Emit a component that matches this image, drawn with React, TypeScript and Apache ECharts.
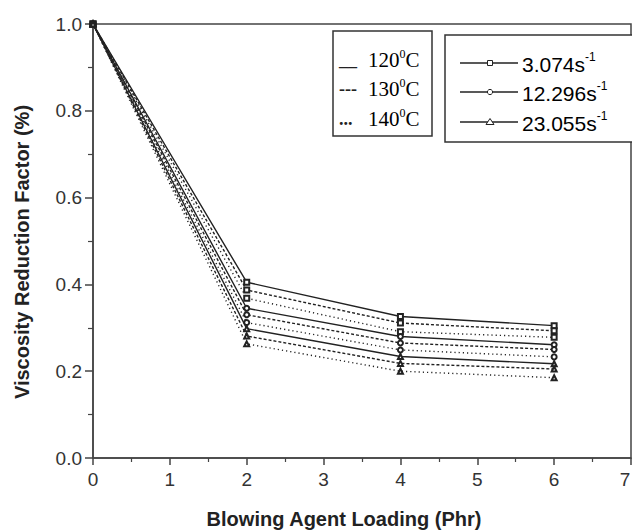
import React, { useEffect, useRef } from "react";
import * as echarts from "echarts";

// Blowing agent loading (Phr)
const loadings = [0, 2, 4, 6];
// Viscosity reduction factor, one array per shear rate / temperature
const vrf_3074_120 = [1.0, 0.405, 0.326, 0.305];
const vrf_3074_130 = [1.0, 0.387, 0.311, 0.293];
const vrf_3074_140 = [1.0, 0.368, 0.291, 0.278];
const vrf_12296_120 = [1.0, 0.345, 0.28, 0.261];
const vrf_12296_130 = [1.0, 0.33, 0.265, 0.25];
const vrf_12296_140 = [1.0, 0.312, 0.249, 0.233];
const vrf_23055_120 = [1.0, 0.298, 0.234, 0.217];
const vrf_23055_130 = [1.0, 0.281, 0.218, 0.205];
const vrf_23055_140 = [1.0, 0.263, 0.2, 0.185];

const temperatures = ["120", "130", "140"];
const shearRates = ["3.074", "12.296", "23.055"];
const tempSymbols = ["__", "---", "..."];
const xTitle = "Blowing Agent Loading (Phr)";
const yTitle = "Viscosity Reduction Factor (%)";

const seriesTable = [
  { rate: 0, temp: 0, values: vrf_3074_120 },
  { rate: 0, temp: 1, values: vrf_3074_130 },
  { rate: 0, temp: 2, values: vrf_3074_140 },
  { rate: 1, temp: 0, values: vrf_12296_120 },
  { rate: 1, temp: 1, values: vrf_12296_130 },
  { rate: 1, temp: 2, values: vrf_12296_140 },
  { rate: 2, temp: 0, values: vrf_23055_120 },
  { rate: 2, temp: 1, values: vrf_23055_130 },
  { rate: 2, temp: 2, values: vrf_23055_140 },
];

const markerSymbols = ["emptyRect", "emptyCircle", "emptyTriangle"];
const lineTypes: any[] = ["solid", [3, 2], [1.2, 3]];

export default function App() {
  const ref = useRef<HTMLDivElement>(null);
  useEffect(() => {
    if (!ref.current) return;
    const chart = echarts.init(ref.current, null, { renderer: "svg" });
    const axisColor = "#444";
    const labelColor = "#333";
    const series = seriesTable.map((s) => ({
      type: "line",
      name: `${shearRates[s.rate]} s-1 ${temperatures[s.temp]} C`,
      data: loadings.map((x, i) => [x, s.values[i]]),
      symbol: markerSymbols[s.rate],
      symbolSize: 5,
      showSymbol: true,
      lineStyle: { color: "#222", width: 1.4, type: lineTypes[s.temp] },
      itemStyle: { color: "#222", borderWidth: 1 },
      z: 3,
    }));

    const legendTemp: any[] = [
      {
        type: "rect",
        shape: { x: 333, y: 31, width: 99, height: 105 },
        style: { fill: "#fff", stroke: "#333", lineWidth: 1.5 },
      },
    ];
    const tempRowsY = [60, 89, 119];
    temperatures.forEach((t, i) => {
      legendTemp.push({
        type: "text",
        x: 339,
        y: tempRowsY[i],
        style: {
          text: tempSymbols[i],
          font: "bold 18px 'Liberation Serif'",
          fill: "#222",
          verticalAlign: "middle",
          align: "left",
        },
      });
      legendTemp.push({
        type: "text",
        x: 368,
        y: tempRowsY[i],
        style: {
          text: `{m|${t}}{s|0}{m|C}`,
          verticalAlign: "middle",
          align: "left",
          rich: {
            m: { fontFamily: "Liberation Serif", fontSize: 21, lineHeight: 24, color: "#222" },
            s: { fontFamily: "Liberation Serif", fontSize: 12, lineHeight: 12, verticalAlign: "top", color: "#222" },
          },
        },
      });
    });

    const legendRate: any[] = [
      {
        type: "rect",
        shape: { x: 445, y: 35, width: 220, height: 107 },
        style: { fill: "#fff", stroke: "#333", lineWidth: 1.5 },
      },
    ];
    const rateRowsY = [63, 92, 122];
    shearRates.forEach((r, i) => {
      const y = rateRowsY[i];
      legendRate.push({
        type: "line",
        shape: { x1: 460, y1: y, x2: 518, y2: y },
        style: { stroke: "#222", lineWidth: 1.4 },
      });
      if (i === 0) {
        legendRate.push({
          type: "rect",
          shape: { x: 487.5, y: y - 2.5, width: 5, height: 5 },
          style: { fill: "#fff", stroke: "#222", lineWidth: 1 },
        });
      } else if (i === 1) {
        legendRate.push({
          type: "circle",
          shape: { cx: 490, cy: y, r: 2.6 },
          style: { fill: "#fff", stroke: "#222", lineWidth: 1 },
        });
      } else {
        legendRate.push({
          type: "polygon",
          shape: { points: [[490, y - 3.5], [494, y + 2.5], [486, y + 2.5]] },
          style: { fill: "#fff", stroke: "#222", lineWidth: 1 },
        });
      }
      legendRate.push({
        type: "text",
        x: 522,
        y: y + 1,
        style: {
          text: `{m|${r}s}{s|-1}`,
          verticalAlign: "middle",
          align: "left",
          rich: {
            m: { fontFamily: "Liberation Sans", fontSize: 21, lineHeight: 26, color: "#222" },
            s: { fontFamily: "Liberation Sans", fontSize: 12, lineHeight: 14, verticalAlign: "top", color: "#222" },
          },
        },
      });
    });

    const titles: any[] = [
      {
        type: "text",
        x: 344,
        y: 519,
        style: {
          text: xTitle,
          font: "bold 20px 'Liberation Sans'",
          fill: "#222",
          align: "center",
          verticalAlign: "middle",
        },
      },
      {
        type: "text",
        x: 22,
        y: 252,
        rotation: Math.PI / 2,
        style: {
          text: yTitle,
          font: "bold 20px 'Liberation Sans'",
          fill: "#222",
          align: "center",
          verticalAlign: "middle",
        },
      },
    ];

    chart.setOption({
      animation: false,
      grid: {
        left: 93,
        top: 24,
        right: 1,
        bottom: 72,
        containLabel: false,
        outerBoundsMode: "none",
        show: true,
        borderColor: axisColor,
        borderWidth: 1.5,
        backgroundColor: "transparent",
      },
      xAxis: {
        type: "value",
        min: 0,
        max: 7,
        interval: 1,
        axisLine: { lineStyle: { color: axisColor, width: 1.5 } },
        axisTick: { inside: false, length: 7, lineStyle: { color: axisColor, width: 1.5 } },
        minorTick: { show: true, splitNumber: 2, length: 4, lineStyle: { color: axisColor, width: 1.2 } },
        axisLabel: {
          fontFamily: "Liberation Sans",
          fontSize: 19,
          color: labelColor,
          margin: 12,
          hideOverlap: false,
          showMinLabel: true,
          showMaxLabel: true,
          formatter: (v: number) => (v === 7 ? `{r|${v}}` : `${v}`),
          rich: {
            r: {
              fontFamily: "Liberation Sans",
              fontSize: 19,
              color: labelColor,
              padding: [0, 12, 0, 0],
            },
          },
        },
        splitLine: { show: false },
      },
      yAxis: {
        type: "value",
        min: 0,
        max: 1,
        interval: 0.2,
        axisLine: { lineStyle: { color: axisColor, width: 1.5 } },
        axisTick: { inside: false, length: 8, lineStyle: { color: axisColor, width: 1.5 } },
        minorTick: { show: true, splitNumber: 2, length: 5, lineStyle: { color: axisColor, width: 1.2 } },
        axisLabel: {
          fontFamily: "Liberation Sans",
          fontSize: 19,
          color: labelColor,
          margin: 11,
          formatter: (v: number) => v.toFixed(1),
        },
        splitLine: { show: false },
      },
      series,
      graphic: [...titles, ...legendTemp, ...legendRate],
    });
    return () => chart.dispose();
  }, []);
  return (
    <div
      ref={ref}
      style={{ position: "absolute", left: 0, top: 0, width: 632, height: 530, background: "#fff" }}
    />
  );
}
